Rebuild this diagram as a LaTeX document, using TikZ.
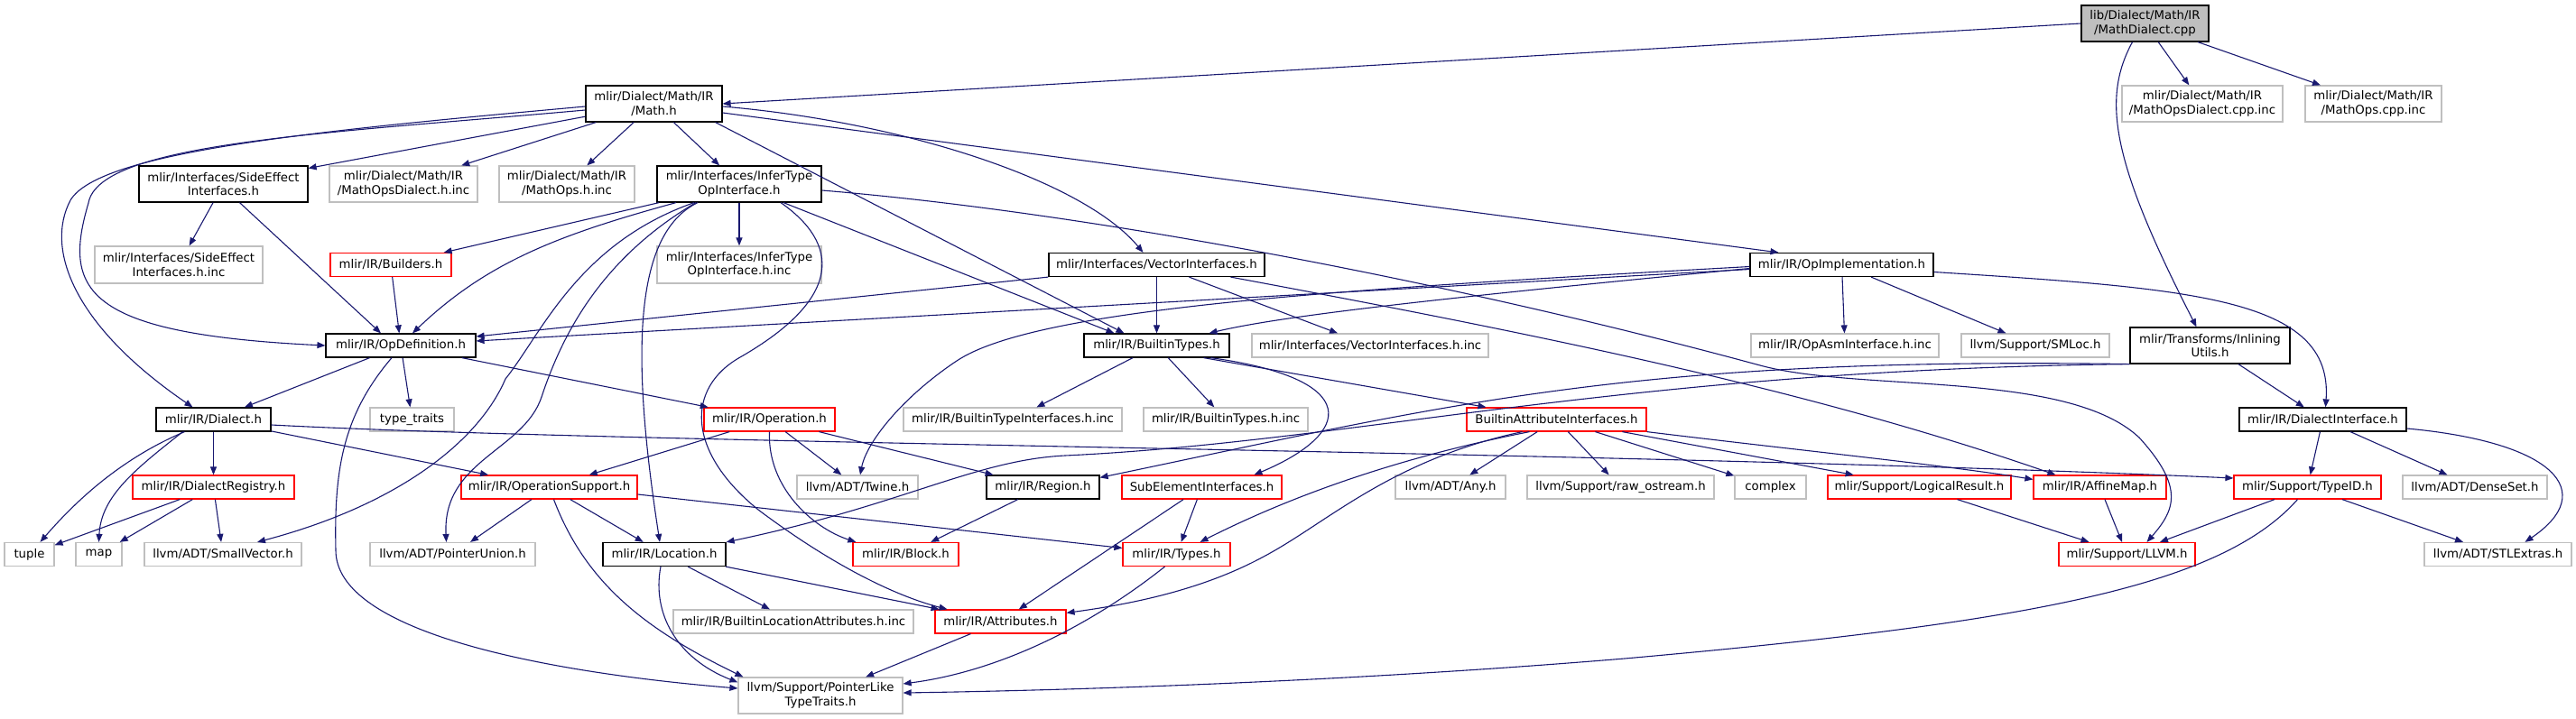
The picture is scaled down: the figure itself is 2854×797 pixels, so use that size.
\documentclass[tikz,border=0pt]{standalone}
\usepackage{fontspec}
\setmainfont{DejaVu Sans}
\usetikzlibrary{arrows.meta}

\definecolor{edgeblue}{HTML}{191970}
\definecolor{boxgray}{HTML}{BFBFBF}
\definecolor{boxred}{HTML}{FF0000}

\tikzset{
  file/.style={rectangle, draw, fill=white, line width=1.2pt, inner sep=0pt,
    align=center, font=\fontsize{13.3}{15.5}\selectfont},
  hdr/.style={file, draw=black},
  sys/.style={file, draw=boxgray},
  trunc/.style={file, draw=boxred},
  this/.style={file, draw=black, fill=boxgray},
  dep/.style={edgeblue, line width=1.1pt, ->},
}

\begin{document}
\begin{tikzpicture}[x=1pt, y=-1pt, >={Triangle[length=9pt,width=7pt]}]
        \useasboundingbox (0,0) rectangle (2854,797);

        % Top rows
        \node[this, minimum width=141, minimum height=40] (mathcpp) at (2376.5,26) {lib/Dialect/Math/IR\\/MathDialect.cpp};
        \node[hdr, minimum width=151, minimum height=40] (mathh) at (724.5,115) {mlir/Dialect/Math/IR\\/Math.h};
        \node[sys, minimum width=178, minimum height=40] (opsdialcpp) at (2440,115) {mlir/Dialect/Math/IR\\/MathOpsDialect.cpp.inc};
        \node[sys, minimum width=151, minimum height=40] (opscpp) at (2629.5,115) {mlir/Dialect/Math/IR\\/MathOps.cpp.inc};
        \node[hdr, minimum width=187, minimum height=40] (sideeff) at (247.5,204) {mlir/Interfaces/SideEffect\\Interfaces.h};
        \node[sys, minimum width=164, minimum height=40] (opsdialh) at (447,204) {mlir/Dialect/Math/IR\\/MathOpsDialect.h.inc};
        \node[sys, minimum width=150, minimum height=40] (opsh) at (628,204) {mlir/Dialect/Math/IR\\/MathOps.h.inc};
        \node[hdr, minimum width=182, minimum height=40] (infer) at (819,204) {mlir/Interfaces/InferType\\OpInterface.h};

        % Interfaces
        \node[sys, minimum width=186, minimum height=41] (sideeffinc) at (198,293.5) {mlir/Interfaces/SideEffect\\Interfaces.h.inc};
        \node[trunc, minimum width=134, minimum height=26] (builders) at (433,293.5) {mlir/IR/Builders.h};
        \node[sys, minimum width=182, minimum height=41] (inferinc) at (819,293.5) {mlir/Interfaces/InferType\\OpInterface.h.inc};
        \node[hdr, minimum width=239, minimum height=26] (vector) at (1281.5,293.5) {mlir/Interfaces/VectorInterfaces.h};
        \node[hdr, minimum width=203, minimum height=26] (opimpl) at (2040.5,293.5) {mlir/IR/OpImplementation.h};

        \node[hdr, minimum width=166, minimum height=26] (opdef) at (444,383) {mlir/IR/OpDefinition.h};
        \node[hdr, minimum width=161, minimum height=26] (btypes) at (1281.5,383) {mlir/IR/BuiltinTypes.h};
        \node[sys, minimum width=262, minimum height=26] (vectorinc) at (1518,383) {mlir/Interfaces/VectorInterfaces.h.inc};
        \node[sys, minimum width=208, minimum height=26] (asminc) at (2044,383) {mlir/IR/OpAsmInterface.h.inc};
        \node[sys, minimum width=164, minimum height=26] (smloc) at (2255,383) {llvm/Support/SMLoc.h};
        \node[hdr, minimum width=177, minimum height=40] (inlining) at (2448.5,383) {mlir/Transforms/Inlining\\Utils.h};

        % IR headers
        \node[hdr, minimum width=127, minimum height=26] (dialect) at (236.5,465) {mlir/IR/Dialect.h};
        \node[sys, minimum width=93, minimum height=26] (typetraits) at (456.5,465) {type\_traits};
        \node[trunc, minimum width=145, minimum height=26] (operation) at (852.5,465) {mlir/IR/Operation.h};
        \node[sys, minimum width=242, minimum height=26] (btinc) at (1122,465) {mlir/IR/BuiltinTypeInterfaces.h.inc};
        \node[sys, minimum width=182, minimum height=26] (btypesinc) at (1358,465) {mlir/IR/BuiltinTypes.h.inc};
        \node[trunc, minimum width=199, minimum height=26] (battr) at (1724.5,465) {BuiltinAttributeInterfaces.h};
        \node[hdr, minimum width=185, minimum height=26] (dialiface) at (2573.5,465) {mlir/IR/DialectInterface.h};

        \node[trunc, minimum width=179, minimum height=26] (registry) at (236.5,540) {mlir/IR/DialectRegistry.h};
        \node[trunc, minimum width=195, minimum height=26] (opsupport) at (608.5,540) {mlir/IR/OperationSupport.h};
        \node[sys, minimum width=134, minimum height=26] (twine) at (950,540) {llvm/ADT/Twine.h};
        \node[hdr, minimum width=125, minimum height=26] (region) at (1155.5,540) {mlir/IR/Region.h};
        \node[trunc, minimum width=177, minimum height=26] (subelem) at (1331.5,540) {SubElementInterfaces.h};
        \node[sys, minimum width=122, minimum height=26] (any) at (1607,540) {llvm/ADT/Any.h};
        \node[sys, minimum width=207, minimum height=26] (rawos) at (1795.5,540) {llvm/Support/raw\_ostream.h};
        \node[sys, minimum width=79, minimum height=26] (complex) at (1961.5,540) {complex};
        \node[trunc, minimum width=203, minimum height=26] (logical) at (2126.5,540) {mlir/Support/LogicalResult.h};
        \node[trunc, minimum width=147, minimum height=26] (affine) at (2326.5,540) {mlir/IR/AffineMap.h};
        \node[trunc, minimum width=163, minimum height=26] (typeid) at (2556.5,540) {mlir/Support/TypeID.h};
        \node[sys, minimum width=160, minimum height=26] (denseset) at (2742,540) {llvm/ADT/DenseSet.h};

        % Leaves
        \node[sys, minimum width=55, minimum height=26] (tuple) at (32.5,614.5) {tuple};
        \node[sys, minimum width=51, minimum height=26] (map) at (109.5,614.5) {map};
        \node[sys, minimum width=174, minimum height=26] (smallvec) at (247,614.5) {llvm/ADT/SmallVector.h};
        \node[sys, minimum width=183, minimum height=26] (ptrunion) at (501.5,614.5) {llvm/ADT/PointerUnion.h};
        \node[hdr, minimum width=136, minimum height=26] (location) at (736,614.5) {mlir/IR/Location.h};
        \node[trunc, minimum width=117, minimum height=26] (block) at (1003.5,614.5) {mlir/IR/Block.h};
        \node[trunc, minimum width=119, minimum height=26] (types) at (1303.5,614.5) {mlir/IR/Types.h};
        \node[trunc, minimum width=151, minimum height=26] (llvm) at (2356.5,614.5) {mlir/Support/LLVM.h};
        \node[sys, minimum width=163, minimum height=26] (stlextras) at (2767.5,614.5) {llvm/ADT/STLExtras.h};
        \node[sys, minimum width=266, minimum height=26] (locinc) at (879,689) {mlir/IR/BuiltinLocationAttributes.h.inc};
        \node[trunc, minimum width=145, minimum height=26] (attrs) at (1108.5,689) {mlir/IR/Attributes.h};
        \node[sys, minimum width=182, minimum height=40] (ptrlike) at (909,771) {llvm/Support/PointerLike\\TypeTraits.h};

        % Source file
        \draw[dep] (mathcpp.west) -- (mathh.east);
        \draw[dep] (mathcpp) -- (opsdialcpp);
        \draw[dep] (mathcpp) -- (opscpp);
        \draw[dep] ([xshift=-14pt]mathcpp.south) .. controls (2328,110) and (2340,180) .. ([xshift=-15pt]inlining.north);

        % Math.h
        \draw[dep] (mathh) -- (sideeff);
        \draw[dep] (mathh) -- (opsdialh);
        \draw[dep] (mathh) -- (opsh);
        \draw[dep] (mathh) -- (infer);
        \draw[dep] ([yshift=-3pt]mathh.west) .. controls (350,145) and (110,168) .. (78,222) .. controls (50,275) and (80,360) .. ([xshift=-23pt]dialect.north);
        \draw[dep] ([yshift=-7pt]mathh.west) .. controls (360,148) and (110,158) .. (98,225) .. controls (70,320) and (90,370) .. (opdef.west);
        \draw[dep] ([xshift=-8pt]mathh.south east) -- ([xshift=-36pt]btypes.north);
        \draw[dep] ([yshift=-3pt]mathh.east) .. controls (1000,135) and (1200,200) .. ([xshift=-15pt]vector.north);
        \draw[dep] ([yshift=-10pt]mathh.east) -- ([xshift=-70pt]opimpl.north);

        % Side effects
        \draw[dep] (sideeff) -- (sideeffinc);
        \draw[dep] ([xshift=18pt]sideeff.south) -- ([xshift=-22pt]opdef.north);

        % Infer type
        \draw[dep] (infer) -- (builders);
        \draw[dep] ([xshift=-70pt]infer.south) .. controls (620,260) and (540,290) .. ([xshift=13pt]opdef.north);
        \draw[dep] (infer) -- (inferinc);
        \draw[dep] ([xshift=49pt]infer.south) -- ([xshift=-47pt]btypes.north);
        \draw[dep] ([xshift=-46pt]infer.south) .. controls (700,260) and (700,400) .. ([xshift=-5pt]location.north);
        \draw[dep] ([xshift=-50pt]infer.south) .. controls (640,270) and (600,370) .. (560,420) .. controls (530,490) and (440,560) .. ([xshift=38pt]smallvec.north);
        \draw[dep] ([xshift=-48pt]infer.south) .. controls (660,290) and (620,380) .. (600,440) .. controls (580,500) and (490,510) .. ([xshift=-7pt]ptrunion.north);
        \draw[dep] ([xshift=46pt]infer.south) .. controls (930,270) and (935,330) .. (820,396) .. controls (760,430) and (760,500) .. (840,565) .. controls (920,625) and (990,660) .. ([xshift=-59pt]attrs.north);
        \draw[dep] ([yshift=-7pt]infer.east) .. controls (1200,235) and (1600,310) .. (1950,405) .. controls (2060,435) and (2290,410) .. (2370,485) .. controls (2420,540) and (2410,565) .. ([xshift=22pt]llvm.north);

        \draw[dep] (builders) -- (opdef);

        % Vector interfaces
        \draw[dep] (vector.south west) -- ([yshift=10pt]opdef.east);
        \draw[dep] (vector) -- (btypes);
        \draw[dep] (vector) -- (vectorinc);
        \draw[dep] ([xshift=82pt]vector.south) .. controls (1700,370) and (2000,430) .. ([xshift=-49pt]affine.north);

        % Op implementation
        \draw[dep] ([yshift=-5pt]opimpl.west) -- ([yshift=5pt]opdef.east);
        \draw[dep] ([yshift=-4pt]opimpl.west) .. controls (1600,330) and (1420,350) .. ([xshift=58pt]btypes.north);
        \draw[dep] ([yshift=-2pt]opimpl.west) .. controls (1500,320) and (1150,340) .. (1060,400) .. controls (1000,440) and (960,490) .. ([xshift=3pt]twine.north);
        \draw[dep] (opimpl) -- (asminc);
        \draw[dep] (opimpl) -- (smloc);
        \draw[dep] ([yshift=-8pt]opimpl.east) .. controls (2430,320) and (2585,330) .. ([xshift=3pt]dialiface.north);

        % Inlining utils
        \draw[dep] (inlining) -- (dialiface);
        \draw[dep] (inlining.south west) .. controls (1800,395) and (1600,450) .. ([yshift=-3pt]region.north east);
        \draw[dep] (inlining.south west) .. controls (1800,410) and (1500,490) .. (1180,505) .. controls (1080,510) and (1000,560) .. (location.north east);

        % Builtin types
        \draw[dep] (btypes) -- (btinc);
        \draw[dep] (btypes) -- (btypesinc);
        \draw[dep] ([xshift=52pt]btypes.south) -- ([xshift=-78pt]battr.north);
        \draw[dep] ([xshift=60pt]btypes.south) .. controls (1510,420) and (1500,480) .. ([xshift=58pt]subelem.north);

        % Op definition
        \draw[dep] (opdef) -- (dialect);
        \draw[dep] (opdef) -- (typetraits);
        \draw[dep] (opdef) -- (operation);
        \draw[dep] ([xshift=-10pt]opdef.south) .. controls (380,460) and (370,520) .. (372,610) .. controls (372,700) and (600,745) .. ([yshift=8pt]ptrlike.west);

        % Dialect
        \draw[dep] (dialect) -- (registry);
        \draw[dep] ([xshift=-32pt]dialect.south) .. controls (130,510) and (80,560) .. ([xshift=12pt]tuple.north);
        \draw[dep] ([xshift=-34pt]dialect.south) .. controls (150,520) and (112,550) .. (map.north);
        \draw[dep] (dialect) -- (opsupport);
        \draw[dep] ([yshift=-6pt]dialect.east) .. controls (700,492) and (1800,500) .. ([yshift=10pt]typeid.west);

        \draw[dep] (registry) -- (tuple);
        \draw[dep] (registry) -- (map);
        \draw[dep] (registry) -- (smallvec);

        % Operation
        \draw[dep] (operation) -- (opsupport);
        \draw[dep] (operation) -- (twine);
        \draw[dep] (operation) -- (region);
        \draw[dep] (operation.south) .. controls (850,540) and (900,585) .. ([xshift=4pt]block.north west);

        \draw[dep] (opsupport) -- (ptrunion);
        \draw[dep] (opsupport) -- (location);
        \draw[dep] ([xshift=5pt]opsupport.south) .. controls (650,650) and (720,700) .. ([xshift=6pt]ptrlike.north west);
        \draw[dep] ([yshift=-8pt]opsupport.east) -- ([yshift=7pt]types.west);

        \draw[dep] (region) -- (block);
        \draw[dep] (subelem) -- (types);
        \draw[dep] (subelem) -- (attrs);

        % Builtin attribute interfaces
        \draw[dep] (battr) -- (any);
        \draw[dep] (battr) -- (rawos);
        \draw[dep] (battr) -- (complex);
        \draw[dep] (battr) -- (logical);
        \draw[dep] (battr.south east) .. controls (2000,500) and (2150,515) .. ([yshift=-5pt]affine.north west);
        \draw[dep] ([xshift=-30pt]battr.south) .. controls (1560,505) and (1440,545) .. ([xshift=26pt]types.north);
        \draw[dep] ([xshift=-38pt]battr.south) .. controls (1540,510) and (1470,580) .. (1400,617) .. controls (1330,655) and (1250,670) .. ([yshift=-4pt]attrs.north east);

        % Dialect interface
        \draw[dep] (dialiface) -- (typeid);
        \draw[dep] (dialiface) -- (denseset);
        \draw[dep] ([yshift=-10pt]dialiface.east) .. controls (2830,490) and (2880,545) .. ([xshift=30pt]stlextras.north);

        % Support
        \draw[dep] (affine) -- (llvm);
        \draw[dep] (logical) -- (llvm);
        \draw[dep] (typeid) -- (llvm);
        \draw[dep] (typeid) -- (stlextras);
        \draw[dep] ([xshift=-11pt]typeid.south) .. controls (2460,650) and (2250,690) .. (1800,730) .. controls (1500,755) and (1200,765) .. ([yshift=3pt]ptrlike.east);

        % Types, attributes, location
        \draw[dep] ([xshift=-13pt]types.south) .. controls (1200,700) and (1100,745) .. ([yshift=13pt]ptrlike.east);
        \draw[dep] (attrs) -- (ptrlike);
        \draw[dep] (location) -- (locinc);
        \draw[dep] (location) -- (attrs);
        \draw[dep] ([xshift=-4pt]location.south) .. controls (722,680) and (750,730) .. ([yshift=-6pt]ptrlike.north west);
\end{tikzpicture}
\end{document}
